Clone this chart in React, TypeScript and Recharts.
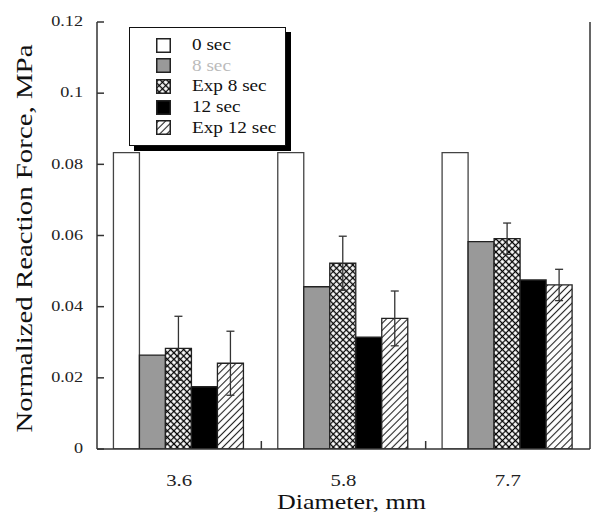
import React from 'react';
import { BarChart, Bar, XAxis, YAxis, ErrorBar, Legend } from 'recharts';

const categories = ['3.6', '5.8', '7.7'];
const sec0 = [0.0833, 0.0833, 0.0833];
const sec8 = [0.0264, 0.0456, 0.0583];
const exp8 = [0.0283, 0.0522, 0.0591];
const exp8Err = [0.009, 0.0076, 0.0044];
const sec12 = [0.0175, 0.0314, 0.0475];
const exp12 = [0.0241, 0.0367, 0.0461];
const exp12Err = [0.009, 0.0077, 0.0044];
const yTicks = [0, 0.02, 0.04, 0.06, 0.08, 0.1, 0.12];
const seriesNames = ['0 sec', '8 sec', 'Exp 8 sec', '12 sec', 'Exp 12 sec'];
const seriesKeys = ['s0', 's8', 'e8', 's12', 'e12'];
const seriesFills = ['#ffffff', '#999999', 'url(#crossPat)', '#000000', 'url(#hatchPat)'];
const legendTextColors = ['#111', '#bbbbbb', '#111', '#111', '#111'];

const data = categories.map((c, i) => ({
  name: c,
  s0: sec0[i],
  s8: sec8[i],
  e8: exp8[i],
  e8Err: exp8Err[i],
  s12: sec12[i],
  e12: exp12[i],
  e12Err: exp12Err[i],
}));

const SERIF = '"Liberation Serif", "Times New Roman", "DejaVu Serif", serif';
const AXIS = '#333';

const YTick = (props: any) => {
  const { x, y, payload } = props;
  return (
    <text
      transform={`translate(${x},${y}) scale(1.3,1)`}
      x={0}
      y={0}
      textAnchor="end"
      dominantBaseline="central"
      fontFamily={SERIF}
      fontSize={14}
      fill="#222"
    >
      {String(payload.value)}
    </text>
  );
};

// bottom category tick: label at band centre + inward tick at band boundary
const XTick = (props: any) => {
  const { x, y, payload, visibleTicksCount } = props;
  const edge = x + (payload.offset || 0);
  const showEdge = payload.index < visibleTicksCount - 1;
  return (
    <g>
      {showEdge && <line x1={edge} x2={edge} y1={y} y2={y - 8} stroke={AXIS} strokeWidth={1.5} />}
      <text
        transform={`translate(${x},${y + 31}) scale(1.3,1)`}
        x={0}
        y={0}
        textAnchor="middle"
        dominantBaseline="central"
        fontFamily={SERIF}
        fontSize={16}
        fill="#222"
      >
        {payload.value}
      </text>
    </g>
  );
};

// top mirror axis: only inward ticks at band boundaries
const TopTick = (props: any) => {
  const { x, y, payload, visibleTicksCount } = props;
  const edge = x + (payload.offset || 0);
  if (payload.index >= visibleTicksCount - 1) return <g />;
  return <line x1={edge} x2={edge} y1={y} y2={y + 8} stroke={AXIS} strokeWidth={1.5} />;
};

const XLabel = (props: any) => {
  const vb = props.viewBox || { x: 0, y: 0, width: 0, height: 0 };
  const cx = vb.x + vb.width / 2 + 8;
  const cy = vb.y + 60;
  return (
    <text
      transform={`translate(${cx},${cy}) scale(1.3,1)`}
      x={0}
      y={0}
      textAnchor="middle"
      fontFamily={SERIF}
      fontSize={20}
      fill="#111"
    >
      Diameter, mm
    </text>
  );
};

const YLabel = (props: any) => {
  const vb = props.viewBox || { x: 0, y: 0, width: 0, height: 0 };
  const cx = vb.x + 24;
  const cy = vb.y + vb.height / 2 + 3;
  return (
    <text
      transform={`rotate(-90, ${cx}, ${cy})`}
      x={cx}
      y={cy}
      textAnchor="middle"
      fontFamily={SERIF}
      fontSize={24}
      textLength={388}
      lengthAdjust="spacingAndGlyphs"
      fill="#111"
    >
      Normalized Reaction Force, MPa
    </text>
  );
};

const LegendBox = () => (
  <div
    style={{
      width: 157,
      height: 119,
      border: '1.5px solid #111',
      boxShadow: '5px 5px 0 #000',
      background: '#fff',
      boxSizing: 'border-box',
      position: 'relative',
      fontFamily: SERIF,
    }}
  >
    {seriesNames.map((name, i) => (
      <div
        key={name}
        style={{
          position: 'absolute',
          left: 26,
          top: 9 + i * 20.7,
          height: 16,
          display: 'flex',
          alignItems: 'center',
        }}
      >
        <svg width={15} height={15} style={{ display: 'block' }}>
          <rect x={0.75} y={0.75} width={13.5} height={13.5} fill={seriesFills[i]} stroke="#222" strokeWidth={1.5} />
        </svg>
        <span
          style={{
            marginLeft: 21,
            fontSize: 16,
            lineHeight: '16px',
            color: legendTextColors[i],
            display: 'inline-block',
            transform: 'scaleX(1.2)',
            transformOrigin: 'left center',
            whiteSpace: 'nowrap',
          }}
        >
          {name}
        </span>
      </div>
    ))}
  </div>
);

export default function App() {
  return (
    <BarChart
      width={590}
      height={504}
      data={data}
      margin={{ top: 14, right: 0, bottom: 0, left: 0 }}
      barCategoryGap="10%"
      barGap={0}
    >
      <defs>
        <pattern id="crossPat" width={4.6} height={4.6} patternUnits="userSpaceOnUse" patternTransform="rotate(45)">
          <rect width={4.6} height={4.6} fill="#fff" />
          <path d="M0 2.3 H4.6 M2.3 0 V4.6" stroke="#000" strokeWidth={1.2} />
        </pattern>
        <pattern id="hatchPat" width={5} height={5} patternUnits="userSpaceOnUse" patternTransform="rotate(45)">
          <rect width={5} height={5} fill="#fff" />
          <path d="M2.5 0 V5" stroke="#222" strokeWidth={1.1} />
        </pattern>
      </defs>
      <XAxis
        xAxisId="top"
        orientation="top"
        dataKey="name"
        height={0}
        tickLine={false}
        tickSize={0}
        tickMargin={0}
        axisLine={{ stroke: AXIS, strokeWidth: 1.5 }}
        tick={<TopTick />}
      />
      <XAxis
        xAxisId="cat"
        dataKey="name"
        height={63}
        tickLine={false}
        tickSize={0}
        tickMargin={0}
        axisLine={{ stroke: AXIS, strokeWidth: 1.5 }}
        tick={<XTick />}
        label={<XLabel />}
      />
      <YAxis
        yAxisId="left"
        width={89}
        domain={[0, 0.12]}
        ticks={yTicks}
        allowDataOverflow
        tickSize={-7}
        tickMargin={21}
        axisLine={{ stroke: AXIS, strokeWidth: 1.5 }}
        tickLine={{ stroke: AXIS, strokeWidth: 1.5 }}
        tick={<YTick />}
        label={<YLabel />}
      />
      <YAxis
        yAxisId="right"
        orientation="right"
        width={8}
        domain={[0, 0.12]}
        ticks={yTicks}
        allowDataOverflow
        tick={false}
        tickSize={-7}
        axisLine={{ stroke: AXIS, strokeWidth: 1.5 }}
        tickLine={{ stroke: AXIS, strokeWidth: 1.5 }}
      />
      <Legend
        layout="vertical"
        align="center"
        verticalAlign="middle"
        content={<LegendBox />}
        wrapperStyle={{ left: 121, top: 19, width: 165, height: 125 }}
      />
      {seriesKeys.map((k, i) => (
        <Bar
          key={k}
          dataKey={k}
          name={seriesNames[i]}
          xAxisId="cat"
          yAxisId="left"
          fill={seriesFills[i]}
          stroke={i === 0 ? '#444' : '#222'}
          strokeWidth={1.3}
          isAnimationActive={false}
        >
          {k === 'e8' && <ErrorBar dataKey="e8Err" width={4} stroke="#333" strokeWidth={1.3} isAnimationActive={false} />}
          {k === 'e12' && <ErrorBar dataKey="e12Err" width={4} stroke="#333" strokeWidth={1.3} isAnimationActive={false} />}
        </Bar>
      ))}
    </BarChart>
  );
}
